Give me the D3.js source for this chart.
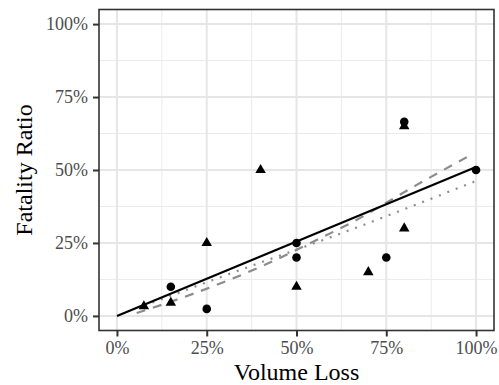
<!DOCTYPE html>
<html>
<head>
<meta charset="utf-8">
<script src="https://cdn.jsdelivr.net/npm/d3@7"></script>
<style>
  body { margin: 0; background: #fff; }
  text { font-family: "Liberation Serif", "DejaVu Serif", serif; }
</style>
</head>
<body>
<div id="container"></div>
<script>
(function(){
  "use strict";
  // circles
  var circleX = [0.15, 0.25, 0.50, 0.50, 0.75, 0.80, 1.00];
  var circleY = [0.10, 0.024, 0.25, 0.20, 0.20, 0.665, 0.50];
  // triangles
  var triX = [0.075, 0.15, 0.25, 0.40, 0.50, 0.70, 0.80, 0.80];
  var triY = [0.033, 0.045, 0.25, 0.50, 0.10, 0.15, 0.30, 0.65];
  // fitted lines
  var solidLine = [[0, 0], [1, 0.51]];
  var dashedLine = [[0.055, 0.01], [0.217, 0.078], [0.412, 0.175], [0.556, 0.26],
                    [0.649, 0.317], [0.835, 0.449], [0.98, 0.548]];
  var dottedLine = [[0.075, 0.035], [0.30, 0.138], [0.668, 0.303], [0.995, 0.46]];
  var ticks = [0, 0.25, 0.5, 0.75, 1];
  var minorTicks = [0.125, 0.375, 0.625, 0.875];

  var width = 499, height = 385;
  var panel = { left: 99, right: 494, top: 9.5, bottom: 330.5 };

  var svg = d3.select("#container").append("svg")
      .attr("width", width)
      .attr("height", height);

  var xScale = d3.scaleLinear().domain([-0.05, 1.05]).range([panel.left, panel.right]);
  var yScale = d3.scaleLinear().domain([-0.05, 1.05]).range([panel.bottom, panel.top]);

  // grid
  var grid = svg.append("g");
  grid.selectAll(".vminor").data(minorTicks).enter().append("line")
      .attr("x1", xScale).attr("x2", xScale)
      .attr("y1", panel.top).attr("y2", panel.bottom)
      .attr("stroke", "#ebebeb").attr("stroke-width", 1);
  grid.selectAll(".hminor").data(minorTicks).enter().append("line")
      .attr("y1", yScale).attr("y2", yScale)
      .attr("x1", panel.left).attr("x2", panel.right)
      .attr("stroke", "#ebebeb").attr("stroke-width", 1);
  grid.selectAll(".vmajor").data(ticks).enter().append("line")
      .attr("x1", xScale).attr("x2", xScale)
      .attr("y1", panel.top).attr("y2", panel.bottom)
      .attr("stroke", "#e6e6e6").attr("stroke-width", 2);
  grid.selectAll(".hmajor").data(ticks).enter().append("line")
      .attr("y1", yScale).attr("y2", yScale)
      .attr("x1", panel.left).attr("x2", panel.right)
      .attr("stroke", "#e6e6e6").attr("stroke-width", 2);

  // fit lines
  var line = d3.line()
      .x(function(d) { return xScale(d[0]); })
      .y(function(d) { return yScale(d[1]); })
      .curve(d3.curveMonotoneX);
  svg.append("path").datum(dottedLine)
      .attr("d", line).attr("fill", "none")
      .attr("stroke", "#8c8c8c").attr("stroke-width", 2.2)
      .attr("stroke-dasharray", "2,7");
  svg.append("path").datum(dashedLine)
      .attr("d", line).attr("fill", "none")
      .attr("stroke", "#8c8c8c").attr("stroke-width", 2.2)
      .attr("stroke-dasharray", "9,8");
  svg.append("path").datum(solidLine)
      .attr("d", line).attr("fill", "none")
      .attr("stroke", "#000").attr("stroke-width", 2.2);

  // points
  svg.append("g").selectAll("circle").data(circleX).enter().append("circle")
      .attr("cx", function(d) { return xScale(d); })
      .attr("cy", function(d, i) { return yScale(circleY[i]); })
      .attr("r", 4.3)
      .attr("fill", "#000");
  var tri = d3.symbol().type(d3.symbolTriangle).size(48);
  svg.append("g").selectAll("path").data(triX).enter().append("path")
      .attr("d", tri)
      .attr("transform", function(d, i) {
        return "translate(" + xScale(d) + "," + yScale(triY[i]) + ")";
      })
      .attr("fill", "#000");

  // panel border
  svg.append("rect")
      .attr("x", panel.left).attr("y", panel.top)
      .attr("width", panel.right - panel.left)
      .attr("height", panel.bottom - panel.top)
      .attr("fill", "none").attr("stroke", "#333").attr("stroke-width", 1.6);

  // axes
  var fmt = d3.format(".0%");
  var xAxis = d3.axisBottom(xScale).tickValues(ticks).tickFormat(fmt)
      .tickSize(6).tickPadding(5);
  var yAxis = d3.axisLeft(yScale).tickValues(ticks).tickFormat(fmt)
      .tickSize(6).tickPadding(5);
  var xAxisGroup = svg.append("g")
      .attr("transform", "translate(0," + panel.bottom + ")").call(xAxis);
  var yAxisGroup = svg.append("g")
      .attr("transform", "translate(" + panel.left + ",0)").call(yAxis);
  [xAxisGroup, yAxisGroup].forEach(function(g) {
    g.select(".domain").remove();
    g.selectAll(".tick line").attr("stroke", "#333").attr("stroke-width", 2);
    g.selectAll(".tick text").attr("fill", "#4d4d4d")
      .style("font-size", "18px")
      .style("font-family", "'Liberation Serif', serif");
  });

  svg.append("text")
      .attr("x", (panel.left + panel.right) / 2)
      .attr("y", 380)
      .attr("text-anchor", "middle")
      .style("font-size", "24px")
      .text("Volume Loss");
  svg.append("text")
      .attr("transform", "translate(32," + (panel.top + panel.bottom) / 2 + ") rotate(-90)")
      .attr("text-anchor", "middle")
      .style("font-size", "24px")
      .text("Fatality Ratio");
})();
</script>
</body>
</html>
